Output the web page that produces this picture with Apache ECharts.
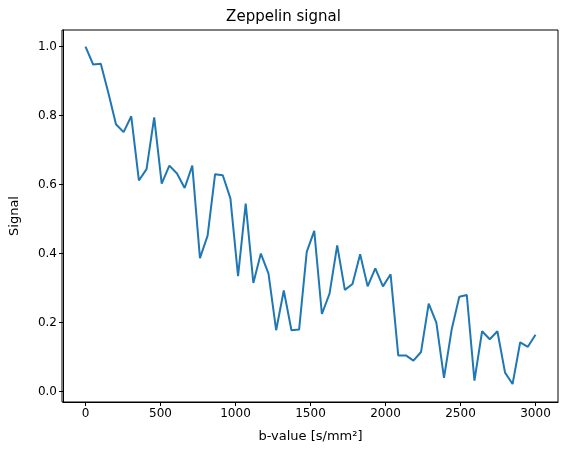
<!DOCTYPE html>
<html><head><meta charset="utf-8">
<script src="https://cdn.jsdelivr.net/npm/echarts@6/dist/echarts.min.js"></script>
<style>html,body{margin:0;background:#fff}#c{width:567px;height:454px}</style>
</head><body><div id="c"></div>
<script>
const bValues = [0,51,102,153,203,254,305,356,407,458,508,559,610,661,712,763,814,864,915,966,
  1017,1068,1119,1169,1220,1271,1322,1373,1424,1475,1525,1576,1627,1678,1729,1780,1831,1881,1932,1983,
  2034,2085,2136,2186,2237,2288,2339,2390,2441,2492,2542,2593,2644,2695,2746,2797,2847,2898,2949,3000];
const signal = [1.0,0.948,0.95,0.865,0.775,0.752,0.798,0.612,0.645,0.795,0.603,0.655,0.632,0.59,0.655,0.387,0.452,0.63,0.627,0.56,
  0.335,0.545,0.315,0.40,0.342,0.178,0.293,0.178,0.18,0.405,0.466,0.225,0.284,0.424,0.295,0.312,0.398,0.305,0.357,0.305,
  0.34,0.105,0.105,0.09,0.115,0.255,0.2,0.04,0.18,0.275,0.28,0.032,0.175,0.152,0.175,0.055,0.022,0.143,0.13,0.165];
const xTicks = [0,500,1000,1500,2000,2500,3000];
const yTicks = [0,0.2,0.4,0.6,0.8,1.0];

const font = 'DejaVu Sans';
const chart = echarts.init(document.getElementById('c'));
chart.setOption({
  animation:false,
  title:{text:'Zeppelin signal',left:'center',top:5,textStyle:{fontFamily:font,fontSize:15,fontWeight:'normal',color:'#000'}},
  grid:{left:62,right:9,top:30,bottom:52},
  xAxis:{type:'value',min:-150,max:3150,name:'b-value [s/mm²]',nameLocation:'middle',nameGap:28,
    nameTextStyle:{fontFamily:font,fontSize:13,color:'#000'},
    axisLine:{onZero:false,lineStyle:{color:'#000'}},splitLine:{show:false},
    axisTick:{customValues:xTicks,length:4,lineStyle:{color:'#000'}},
    axisLabel:{customValues:xTicks,fontFamily:font,fontSize:12,color:'#000',margin:6,formatter:v=>String(v)}},
  yAxis:{type:'value',min:-0.03,max:1.048,name:'Signal',nameLocation:'middle',nameGap:42,
    nameTextStyle:{fontFamily:font,fontSize:13,color:'#000'},
    axisLine:{show:true,onZero:false,lineStyle:{color:'#000'}},splitLine:{show:false},
    axisTick:{show:true,customValues:yTicks,length:4,lineStyle:{color:'#000'}},
    axisLabel:{customValues:yTicks,fontFamily:font,fontSize:12,color:'#000',margin:6,formatter:v=>v.toFixed(1)}},
  series:[{type:'line',data:bValues.map((b,i)=>[b,signal[i]]),showSymbol:false,
    lineStyle:{color:'#1f77b4',width:2}}],
  graphic:[{type:'rect',shape:{x:62,y:30,width:496,height:372},style:{fill:'none',stroke:'#000',lineWidth:1},silent:true}]
});
</script></body></html>
